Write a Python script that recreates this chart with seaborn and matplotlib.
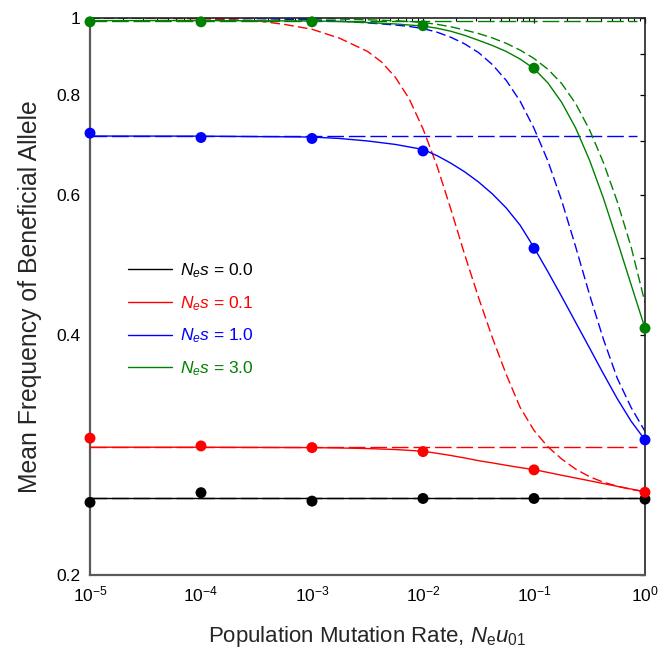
import matplotlib
matplotlib.use("Agg")
import matplotlib.pyplot as plt
from matplotlib.lines import Line2D
from matplotlib.ticker import FixedLocator, FixedFormatter, LogLocator, NullLocator, NullFormatter
import numpy as np
import pandas as pd
import seaborn as sns

# ---- selection strengths --------------------------------------------------
nes_labels = ["0.0", "0.1", "1.0", "3.0"]
nes_colors = ["#000000", "#ff0000", "#0000ff", "#008000"]

# ---- simulation means (filled circles) -----------------------------------
sim_mu = [1e-5, 1e-4, 1e-3, 1e-2, 1e-1, 1e0]
sim_nes00 = [0.2467, 0.2537, 0.2476, 0.2495, 0.2495, 0.2490]
sim_nes01 = [0.2970, 0.2904, 0.2890, 0.2857, 0.2710, 0.2540]
sim_nes10 = [0.717, 0.708, 0.706, 0.681, 0.514, 0.2955]
sim_nes30 = [0.989, 0.989, 0.989, 0.978, 0.865, 0.408]

# ---- weak-mutation limit (horizontal dashed lines) -----------------------
weak_mut_freq = [0.2500, 0.2893, 0.7112, 0.9926]
weak_mut_range = [1e-5, 0.85]

# ---- full theory (solid curves), log10(N_e u) grid ------------------------
theory_logmu = [-5, -4, -3, -2.75, -2.5, -2.25, -2.0, -1.875, -1.75, -1.625,
                -1.5, -1.375, -1.25, -1.125, -1.0, -0.875, -0.75, -0.625,
                -0.5, -0.375, -0.25, -0.125, 0]
theory_nes00 = [0.25] * 23
theory_nes01 = [0.2893, 0.2893, 0.2890, 0.2887, 0.2882, 0.2874, 0.2860, 0.2843,
                0.2825, 0.2805, 0.2783, 0.2765, 0.2746, 0.2728, 0.2712, 0.2690,
                0.2668, 0.2647, 0.2626, 0.2605, 0.2584, 0.2564, 0.2544]
theory_nes10 = [0.711, 0.7108, 0.709, 0.706, 0.701, 0.694, 0.684, 0.672,
                0.6575, 0.6412, 0.6226, 0.6015, 0.5776, 0.5495, 0.5152, 0.4805,
                0.4470, 0.4151, 0.3855, 0.3578, 0.3329, 0.3119, 0.2955]
theory_nes30 = [0.9926, 0.9925, 0.9915, 0.990, 0.987, 0.983, 0.977, 0.9710,
                0.9625, 0.9512, 0.9376, 0.9237, 0.9078, 0.8881, 0.8640, 0.8290,
                0.7834, 0.7278, 0.6633, 0.5943, 0.5253, 0.4628, 0.408]

# ---- deterministic approximation (dashed curves) -------------------------
det_logmu = [-5, -4, -3.5, -3.25, -3, -2.75, -2.5, -2.375, -2.25, -2.125, -2,
             -1.875, -1.75, -1.625, -1.5, -1.375, -1.25, -1.125, -1, -0.875,
             -0.75, -0.625, -0.5, -0.375, -0.25, -0.125, 0]
det_nes01 = [0.9998, 0.998, 0.992, 0.9818, 0.968, 0.943, 0.908, 0.881, 0.843,
             0.792, 0.726, 0.653, 0.576, 0.505, 0.446, 0.397, 0.357, 0.3246,
             0.3037, 0.2897, 0.2796, 0.2716, 0.2657, 0.2615, 0.2585, 0.2561,
             0.2544]
det_nes10 = [0.9999, 0.9993, 0.998, 0.9965, 0.995, 0.991, 0.986, 0.983, 0.980,
             0.976, 0.970, 0.960, 0.946, 0.928, 0.905, 0.8740, 0.8350, 0.7863,
             0.7272, 0.6616, 0.5896, 0.5165, 0.4498, 0.3954, 0.3532, 0.3245,
             0.3029]
det_nes30 = [0.9999, 0.9999, 0.9995, 0.999, 0.998, 0.997, 0.995, 0.9935, 0.992,
             0.990, 0.987, 0.982, 0.9750, 0.9660, 0.9561, 0.9441, 0.9294,
             0.9114, 0.8897, 0.8624, 0.8273, 0.7810, 0.7240, 0.6588, 0.5884,
             0.5161, 0.4391]

# ---- axis ticks -------------------------------------------------------------
x_ticks = [1e-5, 1e-4, 1e-3, 1e-2, 1e-1, 1e0]
x_ticklabels = [r"$10^{-5}$", r"$10^{-4}$", r"$10^{-3}$", r"$10^{-2}$",
                r"$10^{-1}$", r"$10^{0}$"]
y_ticks = [0.2, 0.4, 0.5, 0.6, 0.7, 0.8, 0.9, 1.0]
y_ticklabels = ["0.2", "0.4", "", "0.6", "", "0.8", "", "1"]

# ---------------------------------------------------------------------------
sns.set_style("white")
plt.rcParams["font.family"] = ["Liberation Sans", "DejaVu Sans"]
plt.rcParams["mathtext.fontset"] = "custom"
plt.rcParams["mathtext.rm"] = "Liberation Sans"
plt.rcParams["mathtext.it"] = "Liberation Sans:italic"
plt.rcParams["mathtext.bf"] = "Liberation Sans:bold"
plt.rcParams["mathtext.sf"] = "Liberation Sans"

fig = plt.figure(figsize=(6.6, 6.5), dpi=100)
ax = fig.add_axes([90 / 660, 1 - 575 / 650, 555 / 660, 557 / 650])
ax.set_xscale("log")
ax.set_yscale("log")

sims = [sim_nes00, sim_nes01, sim_nes10, sim_nes30]
theory = [theory_nes00, theory_nes01, theory_nes10, theory_nes30]
det = [None, det_nes01, det_nes10, det_nes30]

for i, col in enumerate(nes_colors):
    # weak-mutation limit
    hl = pd.DataFrame({"mu": weak_mut_range, "freq": [weak_mut_freq[i]] * 2})
    sns.lineplot(data=hl, x="mu", y="freq", ax=ax, color=col, lw=1.0,
                 linestyle=(0, (12, 3.5)), sort=False, zorder=2)
    # deterministic approximation
    if det[i] is not None:
        dd = pd.DataFrame({"mu": np.power(10.0, det_logmu), "freq": det[i]})
        sns.lineplot(data=dd, x="mu", y="freq", ax=ax, color=col, lw=1.0,
                     linestyle=(0, (7, 3)), sort=False, zorder=2)
    # full theory
    td = pd.DataFrame({"mu": np.power(10.0, theory_logmu), "freq": theory[i]})
    sns.lineplot(data=td, x="mu", y="freq", ax=ax, color=col, lw=1.0,
                 sort=False, zorder=3)

for i, col in enumerate(nes_colors):
    sd = pd.DataFrame({"mu": sim_mu, "freq": sims[i]})
    sns.scatterplot(data=sd, x="mu", y="freq", ax=ax, color=col, s=62,
                    edgecolor="none", linewidth=0, zorder=5, clip_on=False)

ax.set_xlim(1e-5, 1e0)
ax.set_ylim(0.2, 1.0)

ax.xaxis.set_major_locator(FixedLocator(x_ticks))
ax.xaxis.set_major_formatter(FixedFormatter(x_ticklabels))
ax.xaxis.set_minor_locator(LogLocator(base=10, subs=np.arange(2, 10), numticks=20))
ax.xaxis.set_minor_formatter(NullFormatter())
ax.yaxis.set_major_locator(FixedLocator(y_ticks))
ax.yaxis.set_major_formatter(FixedFormatter(y_ticklabels))
ax.yaxis.set_minor_locator(NullLocator())

ax.tick_params(which="both", direction="in", top=True, right=True,
               labelsize=12.5, colors="black")
ax.tick_params(which="major", length=3.5, width=0.9)
ax.tick_params(which="minor", length=2.3, width=0.8)
ax.tick_params(axis="y", pad=7)
ax.tick_params(axis="x", pad=7)

for side in ["left", "bottom"]:
    ax.spines[side].set_color("#5a5a5a")
    ax.spines[side].set_linewidth(1.6)
for side in ["top", "right"]:
    ax.spines[side].set_color("#222222")
    ax.spines[side].set_linewidth(1.2)

ax.set_xlabel(r"Population Mutation Rate, $N_\mathrm{e}u_{01}$", fontsize=16,
              labelpad=14)
ax.set_ylabel("Mean Frequency of Beneficial Allele", fontsize=17.8, labelpad=10)

handles = [Line2D([], [], color=c, lw=1.0) for c in nes_colors]
labels = [r"$N_e s$ = " + v for v in nes_labels]
leg = ax.legend(handles, labels, loc="upper left",
                bbox_to_anchor=(0.069, 0.563), frameon=False, fontsize=12.5,
                handlelength=2.5, handletextpad=0.45, labelspacing=0.8,
                borderpad=0, borderaxespad=0)
for txt, c in zip(leg.get_texts(), nes_colors):
    txt.set_color(c)

fig.savefig("out.png", dpi=100)
